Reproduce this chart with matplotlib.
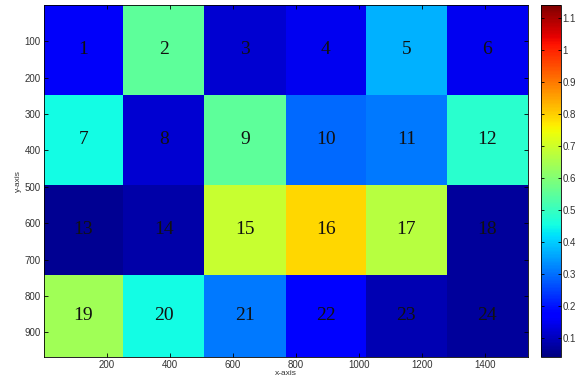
import numpy as np
import matplotlib
matplotlib.use("Agg")
import matplotlib.pyplot as plt
from matplotlib.ticker import FormatStrFormatter

# patch boundaries (pixel coordinates of the image)
x_edges = [0, 252, 510, 768, 1022, 1278, 1536]
y_edges = [0, 247, 494, 742, 968]

# reflectance value of each patch, row by row
patch_values = np.array([
    [0.16, 0.55, 0.12, 0.15, 0.37, 0.15],
    [0.45, 0.12, 0.55, 0.29, 0.31, 0.48],
    [0.06, 0.08, 0.69, 0.79, 0.67, 0.07],
    [0.64, 0.45, 0.31, 0.18, 0.09, 0.07],
])
patch_labels = [str(i) for i in range(1, 25)]

x_ticks = [200, 400, 600, 800, 1000, 1200, 1400]
y_ticks = [100, 200, 300, 400, 500, 600, 700, 800, 900]
cbar_ticks = [0.1, 0.2, 0.3, 0.4, 0.5, 0.6, 0.7, 0.8, 0.9, 1.0, 1.1]

plt.rcParams['font.family'] = ['Liberation Sans', 'DejaVu Sans']

fig = plt.figure(figsize=(5.81, 3.88), dpi=100)
ax = fig.add_axes([0.075, 0.08, 0.834, 0.907])
cax = fig.add_axes([0.931, 0.08, 0.035, 0.907])

mesh = ax.pcolormesh(x_edges, y_edges, patch_values, cmap='jet',
                     vmin=0.04, vmax=1.14)
ax.set_xlim(x_edges[0], x_edges[-1])
ax.set_ylim(y_edges[-1], y_edges[0])

for r in range(patch_values.shape[0]):
    for c in range(patch_values.shape[1]):
        cx = (x_edges[c] + x_edges[c + 1]) / 2
        cy = (y_edges[r] + y_edges[r + 1]) / 2
        ax.text(cx, cy, patch_labels[r * 6 + c], ha='center', va='center',
                fontsize=14, family='Liberation Serif', color='#111111')

ax.set_xticks(x_ticks)
ax.set_yticks(y_ticks)
ax.tick_params(direction='in', top=True, right=True, labelsize=7,
               length=3, width=0.6, labelcolor='#333333', pad=2)
ax.set_xlabel('x-axis', fontsize=6, color='#333333', labelpad=0)
ax.set_ylabel('y-axis', fontsize=6, color='#333333', labelpad=2)
for s in ax.spines.values():
    s.set_linewidth(0.6)

cb = fig.colorbar(mesh, cax=cax, ticks=cbar_ticks)
cb.ax.yaxis.set_major_formatter(FormatStrFormatter('%g'))
cb.ax.tick_params(direction='in', left=True, right=True, labelsize=7,
                  length=2.5, width=0.6, labelcolor='#333333', pad=1)
cb.outline.set_linewidth(0.6)

fig.savefig('out.png', dpi=100)
